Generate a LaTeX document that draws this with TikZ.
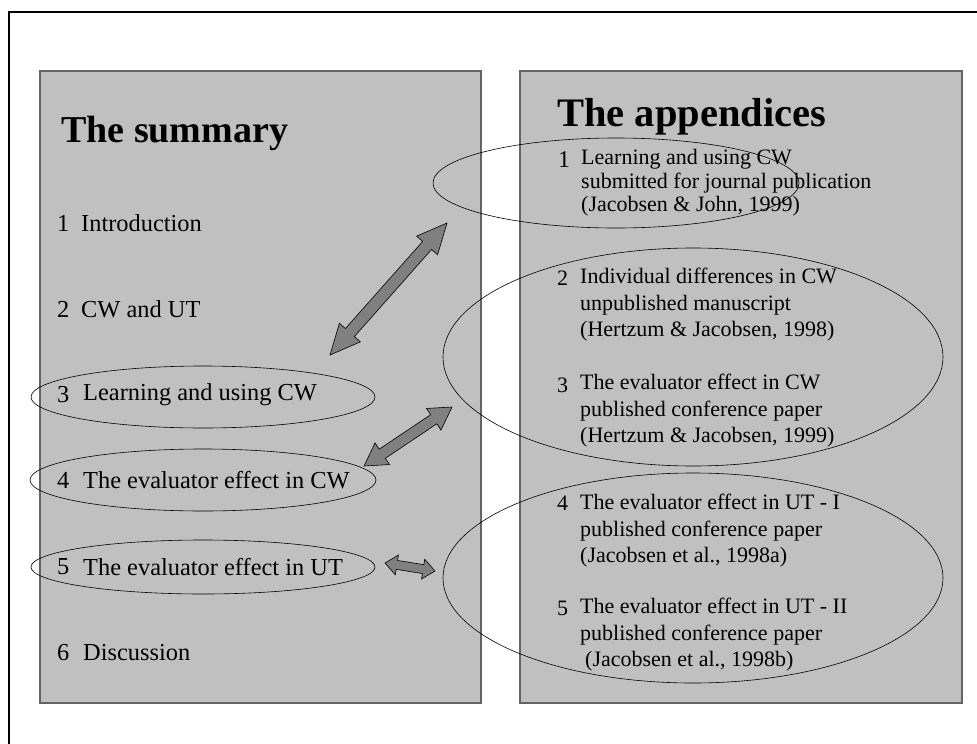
\documentclass[tikz,border=0pt]{standalone}
\usepackage{fontspec}
\setmainfont{Liberation Serif}
\usetikzlibrary{calc,shapes.geometric}
\definecolor{panelgray}{RGB}{192,192,192}
\definecolor{paneledge}{RGB}{100,100,100}
\definecolor{arrowgray}{RGB}{128,128,128}

% block arrow with a head at both ends: from, to, head length, head half width, shaft half width
\newcommand{\dblarrow}[5]{%
  \coordinate (#1-h) at ($(#1)!#3!(#2)$);
  \coordinate (#2-h) at ($(#2)!#3!(#1)$);
  \draw[blockarrow] (#1) -- ($(#1-h)!#4!90:(#2)$) -- ($(#1-h)!#5!90:(#2)$)
    -- ($(#2-h)!#5!-90:(#1)$) -- ($(#2-h)!#4!-90:(#1)$) -- (#2)
    -- ($(#2-h)!#4!90:(#1)$) -- ($(#2-h)!#5!90:(#1)$)
    -- ($(#1-h)!#5!-90:(#2)$) -- ($(#1-h)!#4!-90:(#2)$) -- cycle;}

\begin{document}
\begin{tikzpicture}[x=1pt, y=-1pt,
  panel/.style={draw=paneledge, fill=panelgray, line width=1.2pt},
  heading/.style={anchor=west, inner sep=0pt, font=\fontsize{38}{42}\selectfont\bfseries},
  entry/.style={anchor=west, inner sep=0pt, align=left, font=\fontsize{22}{26.5}\selectfont},
  sumentry/.style={entry, font=\fontsize{24.4}{28}\selectfont},
  ring/.style={draw, ellipse, line width=0.6pt, inner sep=0pt},
  blockarrow/.style={draw=black, fill=arrowgray, line width=0.6pt, line join=miter}]
\useasboundingbox (0,0) rectangle (977,744);

% frame, cut at right and bottom
\draw[line width=2pt] (9,744) -- (9,12) -- (977,12);

% the two panels
\draw[panel] (40,71) rectangle (481,703);
\draw[panel] (520,71) rectangle (962,703);

% left panel: the summary
\node[heading] (sumtitle) at (61,133) {The summary};
\node[sumentry] (s1n) at (57,223) {1};
\node[sumentry] (s1) at (81,223) {Introduction};
\node[sumentry] (s2n) at (57,309) {2};
\node[sumentry] (s2) at (81,309) {CW and UT};
\node[sumentry] (s3n) at (57,395) {3};
\node[sumentry] (s3) at (83,395) {Learning and using CW};
\node[sumentry] (s4n) at (57,480) {4};
\node[sumentry] (s4) at (83,480) {The evaluator effect in CW};
\node[sumentry] (s5n) at (57,567) {5};
\node[sumentry] (s5) at (83,567) {The evaluator effect in UT};
\node[sumentry] (s6n) at (57,653) {6};
\node[sumentry] (s6) at (83,653) {Discussion};

\node[ring, minimum width=344, minimum height=62] (sel3) at (203,397) {};
\node[ring, minimum width=346, minimum height=62] (sel4) at (203,480) {};
\node[ring, minimum width=344, minimum height=54] (sel5) at (203,567) {};

% right panel: the appendices
\node[heading, font=\fontsize{40.5}{44}\selectfont\bfseries] (apptitle) at (557,117) {The appendices};
\node[entry, font=\fontsize{24}{26}\selectfont] (a1n) at (558,160) {1};
\node[entry, font=\fontsize{22}{23.5}\selectfont] (a1) at (581,183)
  {Learning and using CW\\submitted for journal publication\\(Jacobsen \& John, 1999)};
\node[entry] (a2n) at (557,278) {2};
\node[entry] (a2) at (580,305)
  {Individual differences in CW\\unpublished manuscript\\(Hertzum \& Jacobsen, 1998)};
\node[entry] (a3n) at (557,385) {3};
\node[entry] (a3) at (580,411)
  {The evaluator effect in CW\\published conference paper\\(Hertzum \& Jacobsen, 1999)};
\node[entry] (a4n) at (557,503) {4};
\node[entry] (a4) at (580,531)
  {The evaluator effect in UT - I\\published conference paper\\(Jacobsen et al., 1998a)};
\node[entry] (a5n) at (557,608) {5};
\node[entry] (a5) at (580,635)
  {The evaluator effect in UT - II\\published conference paper\\\hspace*{5pt}(Jacobsen et al., 1998b)};

\node[ring, minimum width=366, minimum height=90] (ael1) at (616,183) {};
\node[ring, minimum width=500, minimum height=218] (ael2) at (693,357) {};
\node[ring, minimum width=500, minimum height=210] (ael3) at (693,578) {};

% links between summary and appendices
\coordinate (l1a) at (330,355);
\coordinate (l1b) at (447,223);
\coordinate (l2a) at (364,466);
\coordinate (l2b) at (452,407);
\coordinate (l3a) at (385,563);
\coordinate (l3b) at (435,571);
\dblarrow{l1a}{l1b}{30pt}{14pt}{6pt}
\dblarrow{l2a}{l2b}{22pt}{13pt}{5.5pt}
\dblarrow{l3a}{l3b}{12pt}{10pt}{4.5pt}
\end{tikzpicture}
\end{document}
